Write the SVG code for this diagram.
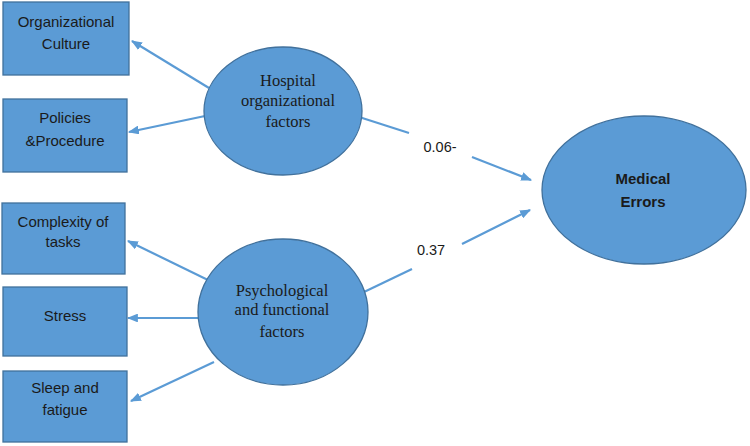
<svg xmlns="http://www.w3.org/2000/svg" width="750" height="446" viewBox="0 0 750 446">
<style>
.box{fill:#5b9bd5;stroke:#41719c;stroke-width:1.3}
.ell{fill:#5b9bd5;stroke:#41719c;stroke-width:1.3}
.bt{font-family:"Liberation Sans",Arial,sans-serif;font-size:15px;fill:#1a1a1a;text-anchor:middle}
.st{font-family:"Liberation Serif","Times New Roman",serif;font-size:16.5px;fill:#1a1a1a;text-anchor:middle}
.mt{font-family:"Liberation Sans",Arial,sans-serif;font-size:15px;font-weight:bold;fill:#1a1a1a;text-anchor:middle}
.lbl{font-family:"Liberation Sans",Arial,sans-serif;font-size:14.5px;fill:#1a1a1a;text-anchor:middle}
.con{stroke:#5b9bd5;stroke-width:2.2;fill:none}
</style>
<defs>
<marker id="ah" viewBox="0 0 10 8" refX="9" refY="4" markerWidth="5" markerHeight="4" orient="auto" markerUnits="strokeWidth">
<path d="M0,0 L10,4 L0,8 z" fill="#5b9bd5"/>
</marker>
</defs>
<rect width="750" height="446" fill="#ffffff"/>
<g id="connectors">
<line class="con" x1="209" y1="88" x2="132" y2="41" marker-end="url(#ah)"/>
<line class="con" x1="205" y1="116" x2="129" y2="132" marker-end="url(#ah)"/>
<line class="con" x1="210" y1="281" x2="128" y2="241" marker-end="url(#ah)"/>
<line class="con" x1="198" y1="318" x2="128" y2="318" marker-end="url(#ah)"/>
<line class="con" x1="214" y1="362" x2="131" y2="401" marker-end="url(#ah)"/>
<line class="con" x1="356" y1="116" x2="409" y2="133"/>
<line class="con" x1="472" y1="157" x2="531" y2="180" marker-end="url(#ah)"/>
<line class="con" x1="364" y1="292" x2="412" y2="269"/>
<line class="con" x1="462" y1="244" x2="530" y2="210" marker-end="url(#ah)"/>
<text class="lbl" x="440" y="152">0.06-</text>
<text class="lbl" x="431" y="255">0.37</text>
</g>
<g id="org-culture">
<rect class="box" x="3" y="2" width="126" height="73"/>
<text class="bt" x="66" y="27">Organizational</text>
<text class="bt" x="66" y="49">Culture</text>
</g>
<g id="policies">
<rect class="box" x="3" y="99" width="124" height="73"/>
<text class="bt" x="65" y="123">Policies</text>
<text class="bt" x="65" y="146">&amp;Procedure</text>
</g>
<g id="complexity">
<rect class="box" x="2" y="203" width="123" height="71"/>
<text class="bt" x="63" y="227">Complexity of</text>
<text class="bt" x="63" y="247">tasks</text>
</g>
<g id="stress">
<rect class="box" x="3" y="287" width="124" height="69"/>
<text class="bt" x="65" y="321">Stress</text>
</g>
<g id="sleep">
<rect class="box" x="3" y="371" width="124" height="71"/>
<text class="bt" x="65" y="393">Sleep and</text>
<text class="bt" x="65" y="415">fatigue</text>
</g>
<g id="hospital">
<ellipse class="ell" cx="283" cy="111" rx="79" ry="64"/>
<text class="st" x="288" y="86">Hospital</text>
<text class="st" x="288" y="106">organizational</text>
<text class="st" x="288" y="127">factors</text>
</g>
<g id="psych">
<ellipse class="ell" cx="283" cy="312" rx="85" ry="73"/>
<text class="st" x="282" y="296">Psychological</text>
<text class="st" x="282" y="315">and functional</text>
<text class="st" x="282" y="337">factors</text>
</g>
<g id="medical">
<ellipse class="ell" cx="644" cy="190" rx="102" ry="74"/>
<text class="mt" x="643" y="184">Medical</text>
<text class="mt" x="643" y="207">Errors</text>
</g>
</svg>
